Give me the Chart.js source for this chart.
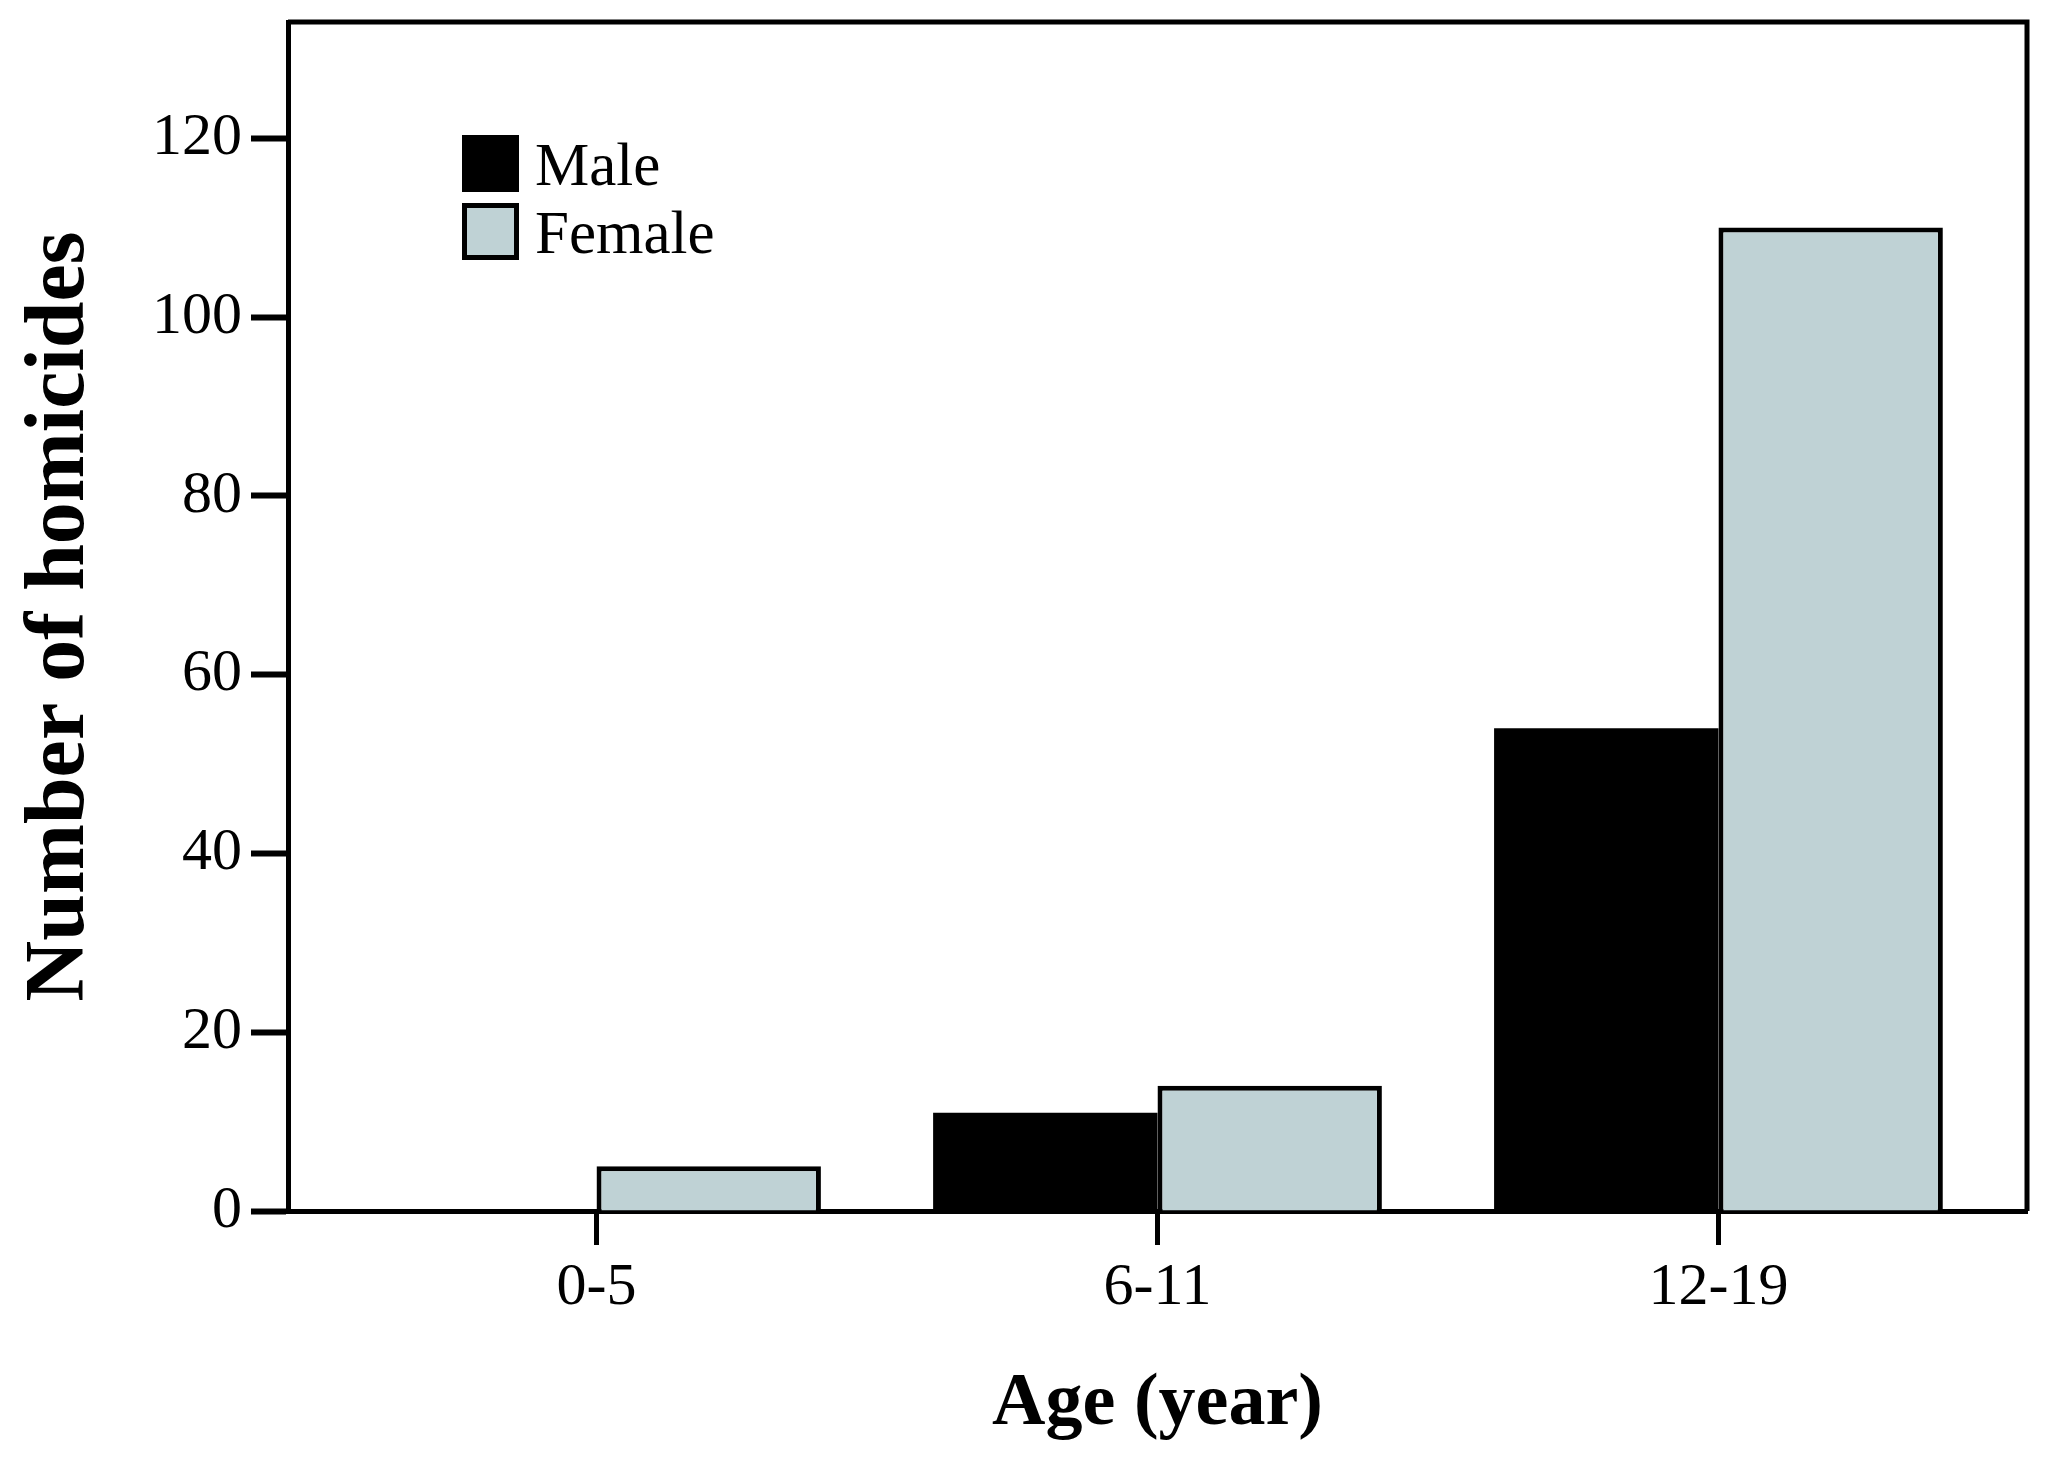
<!DOCTYPE html>
<html>
<head>
<meta charset="utf-8">
<script src="https://cdn.jsdelivr.net/npm/chart.js@4.4.1/dist/chart.umd.min.js"></script>
<style>
  html, body { margin: 0; padding: 0; background: #fff; }
  canvas { display: block; }
</style>
</head>
<body>
<canvas id="chart" width="2051" height="1460"></canvas>
<script>
// age groups on the x axis
const ageGroups = ['0-5', '6-11', '12-19'];
// number of homicides per age group
const maleCounts = [0, 11, 54];
const femaleCounts = [5, 14, 110];
const yTicks = [0, 20, 40, 60, 80, 100, 120];

const FONT = "'Liberation Serif', 'Times New Roman', serif";
const FEMALE_FILL = '#bfd2d5';

// top/right sides of the box round the plot
const frame = {
  id: 'frame',
  afterDatasetsDraw(chart) {
    const { ctx, chartArea: a } = chart;
    ctx.save();
    ctx.strokeStyle = '#000';
    ctx.lineWidth = 5;
    ctx.beginPath();
    ctx.moveTo(a.left, a.top);
    ctx.lineTo(a.right, a.top);
    ctx.lineTo(a.right, a.bottom);
    ctx.stroke();
    ctx.restore();
  }
};

// legend sits inside the plot, top left
const boxLegend = {
  id: 'boxLegend',
  afterDraw(chart) {
    const { ctx, chartArea: a } = chart;
    const size = 57;
    let y = a.top + 113;
    ctx.save();
    ctx.font = '61px ' + FONT;
    ctx.textBaseline = 'alphabetic';
    chart.data.datasets.forEach((ds) => {
      const x = a.left + 174;
      ctx.fillStyle = ds.backgroundColor;
      ctx.fillRect(x, y, size, size);
      ctx.strokeStyle = '#000';
      ctx.lineWidth = 5;
      ctx.strokeRect(x + 2.5, y + 2.5, size - 5, size - 5);
      ctx.fillStyle = '#000';
      ctx.fillText(ds.label, x + size + 16, y + 50);
      y += size + 11;
    });
    ctx.restore();
  }
};

// no extra room for the outer tick labels
const noEdgePadding = (scale) => {
  scale.paddingTop = 0;
  scale.paddingBottom = 0;
  scale.paddingLeft = 0;
  scale.paddingRight = 0;
};

new Chart(document.getElementById('chart'), {
  type: 'bar',
  data: {
    datasets: [
      {
        label: 'Male',
        data: maleCounts.map((v, i) => ({ x: i, y: v })),
        backgroundColor: '#000',
        borderColor: '#000',
        borderWidth: 0,
      },
      {
        label: 'Female',
        data: femaleCounts.map((v, i) => ({ x: i, y: v })),
        backgroundColor: FEMALE_FILL,
        borderColor: '#000',
        borderWidth: 5,
      },
    ],
  },
  plugins: [frame, boxLegend],
  options: {
    responsive: false,
    animation: false,
    devicePixelRatio: 1,
    categoryPercentage: 0.8,
    barPercentage: 1.0,
    layout: { padding: { top: 22, right: 24, left: 0, bottom: 0 } },
    plugins: {
      legend: { display: false },
      tooltip: { enabled: false },
    },
    scales: {
      x: {
        type: 'linear',
        min: -0.55,
        max: 2.55,
        offset: false,
        afterBuildTicks: (scale) => {
          scale.ticks = ageGroups.map((_, i) => ({ value: i }));
        },
        afterFit: (scale) => {
          scale.height = 249;
          noEdgePadding(scale);
        },
        ticks: {
          color: '#000',
          padding: 7,
          maxRotation: 0,
          font: { family: FONT, size: 60 },
          callback: (v) => ageGroups[v],
        },
        grid: {
          offset: false,
          drawOnChartArea: false,
          tickLength: 34,
          tickWidth: 5,
          tickColor: '#000',
        },
        border: { color: '#000', width: 5 },
        title: {
          display: true,
          text: 'Age (year)',
          color: '#000',
          font: { family: FONT, size: 74, weight: 'bold' },
          padding: { top: 0, bottom: 11 },
        },
      },
      y: {
        min: 0,
        max: 133,
        afterBuildTicks: (scale) => {
          scale.ticks = yTicks.map((v) => ({ value: v }));
        },
        afterFit: (scale) => {
          scale.width = 288;
          noEdgePadding(scale);
        },
        ticks: {
          color: '#000',
          padding: 9,
          font: { family: FONT, size: 60 },
        },
        grid: {
          drawOnChartArea: false,
          tickLength: 37,
          tickWidth: 6,
          tickColor: '#000',
        },
        border: { color: '#000', width: 5 },
        title: {
          display: true,
          text: 'Number of homicides',
          color: '#000',
          font: { family: FONT, size: 84, weight: 'bold' },
          padding: { top: 11, bottom: 0 },
        },
      },
    },
  },
});
</script>
</body>
</html>
